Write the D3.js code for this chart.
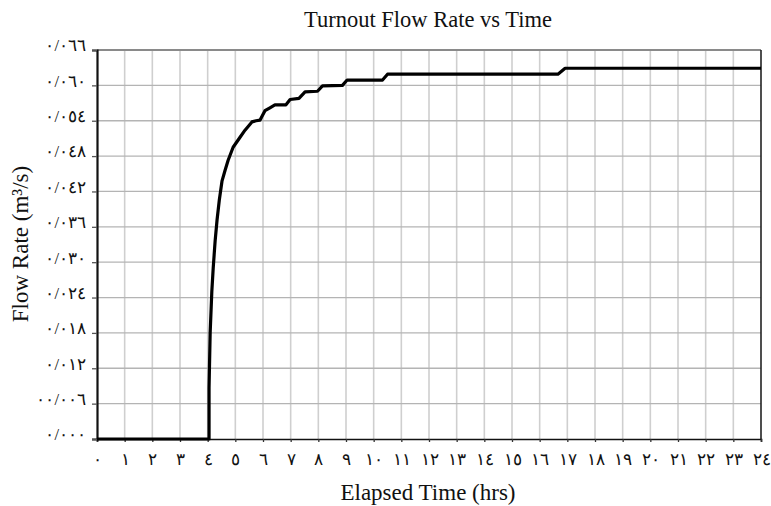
<!DOCTYPE html>
<html>
<head>
<meta charset="utf-8">
<script src="https://cdn.jsdelivr.net/npm/d3@7"></script>
<style>
  body { margin: 0; background: #fff; }
  text { font-family: "Liberation Serif", "DejaVu Serif", serif; fill: #111; }
  .tick-label { font-size: 16.5px; }
</style>
</head>
<body>
<div id="chart"></div>
<script>
// readings (hours, m3/s)
const hours = [0, 4.05, 4.05, 4.09, 4.15, 4.20, 4.27, 4.34, 4.42, 4.52, 4.63, 4.74, 4.92, 5.17, 5.35, 5.60, 5.75, 5.89,
  6.07, 6.25, 6.43, 6.83, 6.98, 7.30, 7.52, 7.97, 8.15, 8.87, 9.04, 10.32, 10.50, 16.66, 16.92, 24];
const flow = [0, 0, 0.0087, 0.0180, 0.0250, 0.0290, 0.0336, 0.0372, 0.0405, 0.0438, 0.0456, 0.0473, 0.0495, 0.0512, 0.0524, 0.0538, 0.0540, 0.0541,
  0.0557, 0.0562, 0.0567, 0.0567, 0.0576, 0.0578, 0.0589, 0.0590, 0.0599, 0.0600, 0.0609, 0.0609, 0.0619, 0.0619, 0.0629, 0.0629];

const xTicks = d3.range(0, 25);
const xTickLabels = ["٠","١","٢","٣","٤","٥","٦","٧","٨","٩","١٠","١١","١٢","١٣","١٤","١٥","١٦","١٧","١٨","١٩","٢٠","٢١","٢٢","٢٣","٢٤"];
const yTicks = [0, 0.006, 0.012, 0.018, 0.024, 0.030, 0.036, 0.042, 0.048, 0.054, 0.060, 0.066];
const yTickLabels = ["٠/٠٠٠","٠٠/٠٠٦","٠/٠١٢","٠/٠١٨","٠/٠٢٤","٠/٠٣٠","٠/٠٣٦","٠/٠٤٢","٠/٠٤٨","٠/٠٥٤","٠/٠٦٠","٠/٠٦٦"];

function drawChart() {
  const width = 771;
  const height = 506;
  const left = 97, right = 761, top = 50, bottom = 439;

  const xScale = d3.scaleLinear().domain([0, 24]).range([left, right]);
  const yScale = d3.scaleLinear().domain([0, 0.066]).range([bottom, top]);

  const svg = d3.select("#chart")
    .append("svg")
    .attr("width", width)
    .attr("height", height);

  // grid
  svg.append("g")
    .selectAll("line")
    .data(xTicks.slice(1, -1))
    .enter().append("line")
    .attr("x1", d => xScale(d)).attr("x2", d => xScale(d))
    .attr("y1", top).attr("y2", bottom)
    .attr("stroke", "#cfcfcf")
    .attr("stroke-width", 1.6);

  svg.append("g")
    .selectAll("line")
    .data(yTicks.slice(1, -1))
    .enter().append("line")
    .attr("x1", left).attr("x2", right)
    .attr("y1", d => yScale(d)).attr("y2", d => yScale(d))
    .attr("stroke", "#b4b4b4")
    .attr("stroke-width", 1.3);

  // frame
  svg.append("line")
    .attr("x1", left).attr("x2", right).attr("y1", top).attr("y2", top)
    .attr("stroke", "#8a8a8a").attr("stroke-width", 2);
  svg.append("line")
    .attr("x1", right).attr("x2", right).attr("y1", top).attr("y2", bottom)
    .attr("stroke", "#222").attr("stroke-width", 1.6);

  const xAxis = d3.axisBottom(xScale)
    .tickValues(xTicks)
    .tickSize(3)
    .tickPadding(11)
    .tickFormat((d, i) => xTickLabels[i]);

  const gx = svg.append("g")
    .attr("transform", `translate(0, ${bottom})`)
    .call(xAxis);
  gx.select(".domain").attr("stroke", "#111").attr("stroke-width", 1.6);
  gx.selectAll(".tick line").attr("stroke", "#333").attr("stroke-width", 1.3);
  gx.selectAll(".tick text").attr("class", "tick-label").attr("fill", "#111");

  const yAxis = d3.axisLeft(yScale)
    .tickValues(yTicks)
    .tickSize(5)
    .tickPadding(6)
    .tickFormat((d, i) => yTickLabels[i]);

  const gy = svg.append("g")
    .attr("transform", `translate(${left}, 0)`)
    .call(yAxis);
  gy.select(".domain").attr("stroke", "#111").attr("stroke-width", 2.2);
  gy.selectAll(".tick line").attr("stroke", "#555").attr("stroke-width", 1.3);
  gy.selectAll(".tick text").attr("class", "tick-label").attr("fill", "#111")
    .attr("direction", "ltr").attr("dy", "0.05em");
  svg.selectAll("g path.domain").attr("fill", "none");

  // flow line
  const line = d3.line()
    .x((d, i) => xScale(hours[i]))
    .y(d => yScale(d));

  svg.append("path")
    .datum(flow)
    .attr("d", line)
    .attr("fill", "none")
    .attr("stroke", "#000")
    .attr("stroke-width", 3.2)
    .attr("stroke-linejoin", "round");

  // titles
  svg.append("text")
    .attr("x", 428).attr("y", 27)
    .attr("text-anchor", "middle")
    .style("font-size", "22.5px")
    .text("Turnout Flow Rate vs Time");

  svg.append("text")
    .attr("x", 428).attr("y", 500)
    .attr("text-anchor", "middle")
    .style("font-size", "23px")
    .text("Elapsed Time (hrs)");

  svg.append("text")
    .attr("transform", "translate(28, 244) rotate(-90)")
    .attr("text-anchor", "middle")
    .style("font-size", "23px")
    .text("Flow Rate (m³/s)");
}

drawChart();
</script>
</body>
</html>
